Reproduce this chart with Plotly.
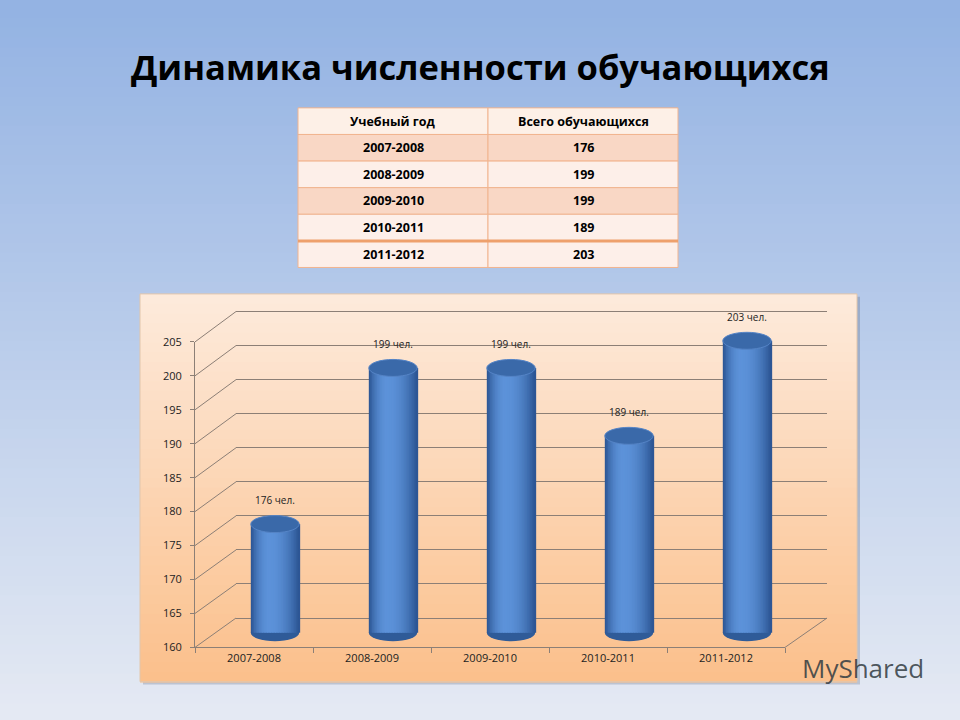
import plotly.graph_objects as go

# ---------------- data ----------------
years = ["2007-2008", "2008-2009", "2009-2010", "2010-2011", "2011-2012"]
students = [176, 199, 199, 189, 203]
table_header = ["Учебный год", "Всего обучающихся"]
title_text = "Динамика численности обучающихся"
unit_label = "чел."
y_min, y_max, y_step = 160, 205, 5

# ---------------- helpers ----------------
W, H = 960, 720


def px(x):
    return x / W


def py(y):
    return 1 - y / H


def hex2rgb(c):
    c = c.lstrip("#")
    return [int(c[i:i + 2], 16) for i in (0, 2, 4)]


def lerp(c1, c2, t):
    a, b = hex2rgb(c1), hex2rgb(c2)
    r = [round(a[i] + (b[i] - a[i]) * t) for i in range(3)]
    return "rgb(%d,%d,%d)" % tuple(r)


# pixel geometry of the three planes (back wall, bars, front axes)
BACK_X, BACK_Y = (236, 827), (623, 310)
MID_X, MID_Y = (216, 806), (638, 326)
FRONT_X, FRONT_Y = (195, 785), (653, 341)
back_unit = (BACK_Y[0] - BACK_Y[1]) / (y_max - y_min)
mid_unit = (MID_Y[0] - MID_Y[1]) / (y_max - y_min)
pad = 3


def y_back(v):
    return BACK_Y[0] - (v - y_min) * back_unit


def y_front(v):
    return FRONT_Y[0] - (v - y_min) * (FRONT_Y[0] - FRONT_Y[1]) / (y_max - y_min)


shapes = []
annotations = []

# slide background gradient
n = 72
for i in range(n):
    top = -60 if i == 0 else i * 10
    bottom = 800 if i == n - 1 else (i + 1) * 10 + 1
    shapes.append(dict(type="rect", xref="paper", yref="paper", x0=-0.05, x1=1.05,
                       y0=py(bottom), y1=py(top),
                       fillcolor=lerp("#94b3e3", "#e4e9f3", i / (n - 1)),
                       line_width=0, layer="below"))

# chart panel with shadow and gradient
PX0, PX1, PY0, PY1 = 140, 857, 292, 688
shapes.append(dict(type="rect", xref="paper", yref="paper", x0=px(PX0 + 3), x1=px(PX1 + 3),
                   y0=py(PY1 + 3), y1=py(PY0 + 3), fillcolor="rgba(60,70,90,0.22)",
                   line_width=0, layer="below"))
m = 40
step = (PY1 - PY0) / m
for i in range(m):
    shapes.append(dict(type="rect", xref="paper", yref="paper", x0=px(PX0), x1=px(PX1),
                       y0=py(PY0 + (i + 1) * step + 0.8), y1=py(PY0 + i * step),
                       fillcolor=lerp("#fdeadb", "#fbc08c", i / (m - 1)),
                       line_width=0, layer="below"))
shapes.append(dict(type="rect", xref="paper", yref="paper", x0=px(PX0), x1=px(PX1),
                   y0=py(PY1), y1=py(PY0), line=dict(color="#e2c6ab", width=1),
                   fillcolor="rgba(0,0,0,0)", layer="below"))

# 3D depth connectors from the front axis to the back wall
grid_col = "#8c7f76"
v = y_min
while v <= y_max:
    shapes.append(dict(type="line", xref="paper", yref="paper",
                       x0=px(FRONT_X[0]), y0=py(y_front(v)),
                       x1=px(BACK_X[0]), y1=py(y_back(v)),
                       line=dict(color=grid_col, width=1)))
    v += y_step
shapes.append(dict(type="line", xref="paper", yref="paper",
                   x0=px(FRONT_X[1]), y0=py(y_front(y_min)),
                   x1=px(BACK_X[1]), y1=py(y_back(y_min)),
                   line=dict(color=grid_col, width=1)))

# cylinder bottoms (below) and tops (above)
bar_w = 0.41
for i, val in enumerate(students):
    shapes.append(dict(type="circle", xref="x3", yref="y3",
                       x0=i - bar_w / 2, x1=i + bar_w / 2,
                       y0=y_min - 1.25, y1=y_min + 1.25,
                       fillcolor="#2f5b98", line_width=0, layer="below"))
for i, val in enumerate(students):
    shapes.append(dict(type="circle", xref="x3", yref="y3",
                       x0=i - bar_w / 2, x1=i + bar_w / 2,
                       y0=val - 1.25, y1=val + 1.25,
                       fillcolor="#3a69a9", line=dict(color="#5584c6", width=1)))

# ---------------- table (drawn as cells) ----------------
TX = [298, 488, 678]
TY0, TY1 = 102, 265
row_h = (TY1 - TY0) / (len(years) + 1)
header_fill = "#fdf0e7"
row_fill = ["#f9d7c5", "#fdefe9", "#f9d7c5", "#fdefe9", "#fdefe9"]
cell_line = "#f1b48f"
table_rows = [table_header] + [[y, str(s)] for y, s in zip(years, students)]
for r, row in enumerate(table_rows):
    top = TY0 + r * row_h
    fill = header_fill if r == 0 else row_fill[r - 1]
    for c, txt in enumerate(row):
        shapes.append(dict(type="rect", xref="paper", yref="paper",
                           x0=px(TX[c]), x1=px(TX[c + 1]),
                           y0=py(top + row_h), y1=py(top),
                           fillcolor=fill, line=dict(color=cell_line, width=1)))
        annotations.append(dict(x=px((TX[c] + TX[c + 1]) / 2), y=py(top + row_h / 2),
                                xref="paper", yref="paper", xanchor="center", yanchor="middle",
                                text="<b>%s</b>" % txt, showarrow=False,
                                font=dict(family="Open Sans", size=12.5, color="black")))
shapes.append(dict(type="line", xref="paper", yref="paper", x0=px(TX[0]), x1=px(TX[-1]),
                   y0=py(TY0 + len(years) * row_h), y1=py(TY0 + len(years) * row_h),
                   line=dict(color="#eea06c", width=3)))

fig = go.Figure()

# back wall gridlines
fig.add_trace(go.Scatter(x=years, y=students, xaxis="x", yaxis="y", mode="markers",
                         marker=dict(opacity=0), hoverinfo="skip", showlegend=False))
# front axes
fig.add_trace(go.Scatter(x=years, y=students, xaxis="x2", yaxis="y2", mode="markers",
                         marker=dict(opacity=0), hoverinfo="skip", showlegend=False))

# cylinder bodies as shaded strips
N = 30
dark, light = "#2a5391", "#5c92d9"
for k in range(N):
    t = (k + 0.5) / N
    s = (t - 0.38) / 0.62 if t > 0.38 else (0.38 - t) / 0.38
    w = max(0.0, 1 - s ** 2)
    col = lerp(dark, light, w)
    fig.add_trace(go.Bar(
        x=years, y=[val - y_min for val in students], base=[y_min] * len(students),
        xaxis="x3", yaxis="y3",
        width=[bar_w / N * 1.6] * len(students),
        offset=[-bar_w / 2 + k * bar_w / N] * len(students) if k < N - 1
        else [bar_w / 2 - bar_w / N] * len(students),
        marker=dict(color=col, line=dict(width=0)),
        hoverinfo="skip", showlegend=False))

for yr, val in zip(years, students):
    annotations.append(dict(x=yr, y=val, xref="x3", yref="y3", yshift=24,
                            text="%d %s" % (val, unit_label), showarrow=False,
                            font=dict(family="Open Sans", size=10, color="#222")))
annotations.append(dict(x=0.5, y=py(60), xref="paper", yref="paper",
                        xanchor="center", yanchor="middle",
                        text="<b>%s</b>" % title_text, showarrow=False,
                        font=dict(family="Open Sans", size=34.5, color="black")))
annotations.append(dict(x=px(863), y=py(674), xref="paper", yref="paper",
                        xanchor="center", yanchor="middle",
                        text="MyShared", showarrow=False,
                        font=dict(family="Open Sans", size=26, color="rgba(50,60,66,0.85)")))

axis_font = dict(family="Open Sans", size=11, color="#222")
fig.update_layout(
    width=W, height=H, margin=dict(l=0, r=0, t=0, b=0),
    paper_bgcolor="#e4e9f3", plot_bgcolor="rgba(0,0,0,0)",
    barmode="overlay", showlegend=False, shapes=shapes, annotations=annotations,
    xaxis=dict(domain=[px(BACK_X[0]), px(BACK_X[1])], type="category",
               range=[-0.5, len(years) - 0.5], visible=False, anchor="y"),
    yaxis=dict(domain=[py(BACK_Y[0] + pad * back_unit), py(BACK_Y[1] - pad * back_unit)],
               range=[y_min - pad, y_max + pad],
               tickvals=list(range(y_min, y_max + 1, y_step)),
               showgrid=True, gridcolor=grid_col, gridwidth=1,
               showticklabels=False, zeroline=False, showline=False, ticks="", anchor="x"),
    xaxis2=dict(domain=[px(FRONT_X[0]), px(FRONT_X[1])], type="category",
                categoryarray=years, range=[-0.5, len(years) - 0.5], anchor="y2",
                showline=True, linecolor=grid_col, ticks="outside", tickson="boundaries",
                ticklen=5, tickcolor=grid_col, showgrid=False, tickfont=axis_font),
    yaxis2=dict(domain=[py(FRONT_Y[0]), py(FRONT_Y[1])], range=[y_min, y_max],
                dtick=y_step, tick0=y_min, anchor="x2", showline=True, linecolor=grid_col,
                ticks="outside", ticklen=4, tickcolor=grid_col, showgrid=False,
                zeroline=False, tickfont=axis_font, ticklabelstandoff=6),
    xaxis3=dict(domain=[px(MID_X[0]), px(MID_X[1])], type="category",
                categoryarray=years, range=[-0.5, len(years) - 0.5], visible=False,
                anchor="y3"),
    yaxis3=dict(domain=[py(MID_Y[0] + pad * mid_unit), py(MID_Y[1] - pad * mid_unit)],
                range=[y_min - pad, y_max + pad], visible=False, anchor="x3"),
)

post = ("document.documentElement.style.margin='0';"
        "document.body.style.margin='0';document.body.style.overflow='hidden';"
        "var d=document.getElementById('{plot_id}');"
        "d.style.position='fixed';d.style.left='0px';d.style.top='0px';")
fig.write_html("out.html", config={"displayModeBar": False}, post_script=post)
